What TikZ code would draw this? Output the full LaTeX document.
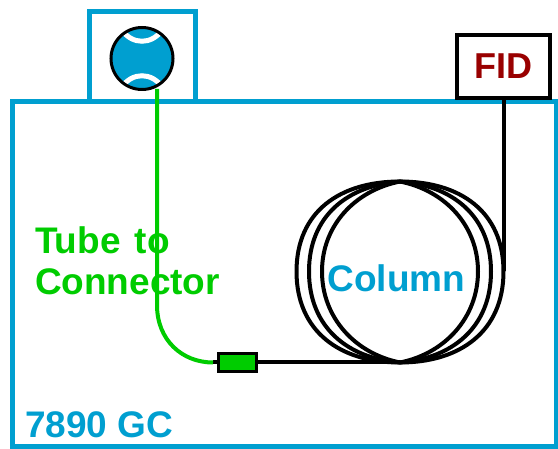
\documentclass[tikz,border=0pt]{standalone}
\usepackage{fontspec}
\setmainfont{Liberation Sans}
\definecolor{gcblue}{HTML}{009FD0}
\definecolor{tubegreen}{HTML}{00CC00}
\definecolor{fidred}{HTML}{990000}
\tikzset{
  frame/.style={draw=gcblue,line width=5pt,inner sep=0pt,outer sep=0pt,anchor=north west},
  tube/.style={draw=tubegreen,line width=4pt},
  wire/.style={draw=black,line width=4pt},
  lbl/.style={inner sep=0pt,outer sep=0pt,font=\bfseries\fontsize{37}{37}\selectfont}
}
\newcommand{\coilloop}[4]{% half width, control reach, drop at the end, height of shoulder
  \draw[wire] (ctop) .. controls (400+#2,181.5+#3) and (400+#1,271.5-#4) .. (400+#1,271.5)
     .. controls (400+#1,271.5+#4) and (400+#2,362.5-#3) .. (cbot)
     .. controls (400-#2,362.5-#3) and (400-#1,271.5+#4) .. (400-#1,271.5)
     .. controls (400-#1,271.5-#4) and (400-#2,181.5+#3) .. (ctop) -- cycle;}
\begin{document}
\begin{tikzpicture}[x=1pt,y=-1pt]
\useasboundingbox (0,0) rectangle (558,449);
\fill[white] (0,0) rectangle (558,449);
% GC oven and inlet housing
\node[frame,minimum width=106.5pt,minimum height=90pt] (inlet) at (89,12) {};
\node[frame,minimum width=544pt,minimum height=345pt] (oven) at (12,102) {};
% column coils
\coordinate (ctop) at (400,181.5);
\coordinate (cbot) at (400,362.5);
\coordinate (cright) at (503.5,271.5);
\coilloop{103.5}{60}{0}{60}
\coilloop{91}{52}{4}{56}
\coilloop{78}{45}{9}{46}
% FID
\node[draw=black,line width=4pt,fill=white,anchor=north west,minimum width=93pt,minimum height=63pt,inner sep=0pt,outer sep=0pt,text=fidred,font=\bfseries\fontsize{36}{36}\selectfont] (fid) at (457,35) {FID};
\draw[wire] (fid.south -| cright) -- (cright);
% connector and tubes
\node[draw=black,line width=3pt,fill=tubegreen,minimum width=38pt,minimum height=18.5pt,inner sep=0pt,outer sep=0pt] (conn) at (237.5,362.5) {};
\coordinate (stub) at (213,362.5);
\draw[wire] (conn.east) -- (cbot);
\draw[wire] (stub) -- (conn.west);
% inlet symbol
\node[circle,fill=gcblue,minimum size=62pt,inner sep=0pt,outer sep=0pt] (inj) at (142,58.5) {};
\begin{scope}
\clip (inj.center) circle (31pt);
\draw[white,line width=5pt] (122,30) .. controls (132,45) and (152,45) .. (162,30);
\draw[white,line width=5pt] (122,87) .. controls (132,72) and (152,72) .. (162,87);
\end{scope}
\node[circle,draw=black,line width=3pt,minimum size=62pt,inner sep=0pt,outer sep=0pt] (injrim) at (142,58.5) {};
\draw[tube] (157,89) -- (157,305) .. controls (157,340) and (182,362.5) .. (stub);
% labels
\node[lbl,text=tubegreen,anchor=west] (t1) at (35,240) {Tube\hspace{14.3pt}to};
\node[lbl,text=tubegreen,anchor=west] (t2) at (35,282) {Connector};
\node[lbl,text=gcblue] (col) at (396.5,278) {Column};
\node[lbl,text=gcblue,anchor=west] (gc) at (25,425) {7890 GC};
\end{tikzpicture}
\end{document}
